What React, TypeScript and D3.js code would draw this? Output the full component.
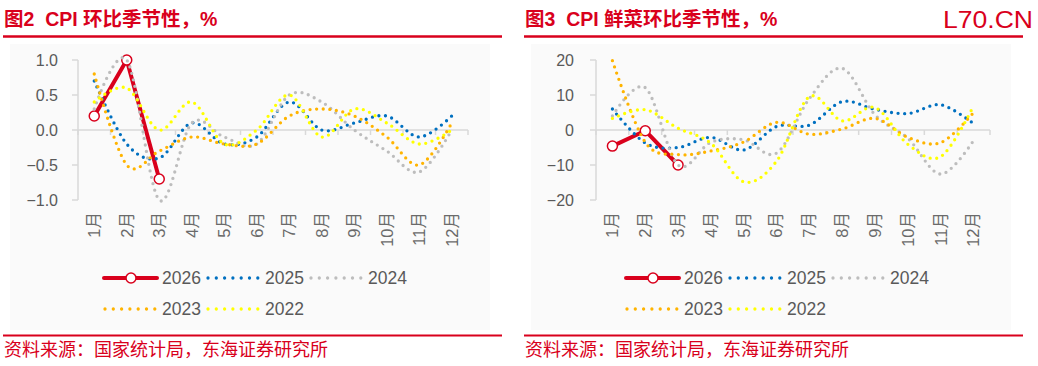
import React from 'react';
import * as d3 from 'd3';

const months = ['1月', '2月', '3月', '4月', '5月', '6月', '7月', '8月', '9月', '10月', '11月', '12月'];
const years = ['2026', '2025', '2024', '2023', '2022'];

// 图2 CPI 环比
const cpi2026 = [0.2, 1.0, -0.7];
const cpi2025 = [0.7, -0.2, -0.4, 0.1, -0.2, -0.1, 0.4, 0.0, 0.1, 0.2, -0.1, 0.2];
const cpi2024 = [0.3, 1.0, -1.0, 0.1, -0.1, -0.2, 0.5, 0.4, 0.0, -0.3, -0.6, 0.0];
const cpi2023 = [0.8, -0.5, -0.3, -0.1, -0.2, -0.2, 0.2, 0.3, 0.2, -0.1, -0.5, 0.1];
const cpi2022 = [0.4, 0.6, 0.0, 0.4, -0.2, 0.0, 0.5, -0.1, 0.3, 0.1, -0.2, 0.0];
const cpiTicks = [-1.0, -0.5, 0.0, 0.5, 1.0];

// 图3 CPI 鲜菜环比
const veg2026 = [-4.6, -0.2, -10.0];
const veg2025 = [6.0, -3.7, -5.0, -2.1, -5.7, 1.0, 1.4, 8.1, 5.9, 4.7, 7.2, 1.8];
const veg2024 = [4.0, 12.1, -10.0, -3.5, -2.8, -6.6, 9.0, 17.6, 4.3, -2.4, -12.6, -3.0];
const veg2023 = [19.8, -3.5, -7.0, -6.0, -3.4, 2.2, -1.2, 0.3, 3.3, -2.1, -3.6, 5.0];
const veg2022 = [3.3, 5.8, 0.5, -3.8, -14.8, -8.9, 9.5, 2.6, 6.4, -4.1, -7.6, 6.9];
const vegTicks = [-20, -10, 0, 10, 20];

const RED = '#d9001c';
const colors: Record<string, string> = {
  '2026': RED,
  '2025': '#0070c0',
  '2024': '#bdbdbd',
  '2023': '#ffb400',
  '2022': '#ffff00',
};
const FONT = '"Liberation Sans", Arial, "Noto Sans CJK SC", sans-serif';
const AXIS = '#d9d9d9';
const TXT = '#595959';

interface PanelProps {
  x0: number;
  title: string;
  series: number[][];
  ticks: number[];
  fmt: (v: number) => string;
  plotLeft: number;
  plotRight: number;
  labelRight: number;
  legendX: number;
}

const Panel: React.FC<PanelProps> = ({ x0, title, series, ticks, fmt, plotLeft, plotRight, labelRight, legendX }) => {
  const top = 60;
  const bottom = 200;
  const x = d3.scaleBand<string>().domain(months).range([plotLeft, plotRight]).padding(0);
  const bw = x.bandwidth();
  const cx = (i: number) => (x(months[i]) || 0) + bw / 2;
  const y = d3.scaleLinear().domain([ticks[0], ticks[ticks.length - 1]]).range([bottom, top]);

  const smooth = d3.line<number>().x((_, i) => cx(i)).y(d => y(d)).curve(d3.curveCardinal);
  const straight = d3.line<number>().x((_, i) => cx(i)).y(d => y(d));

  const boundaries = d3.range(months.length + 1).map(i => plotLeft + i * bw);

  return (
    <g>
      <rect x={x0 + 10} y={44} width={480} height={286} fill="#fafafa" />
      <text x={x0 + 4} y={26} fill={RED} fontSize={19.5} fontWeight="bold" fontFamily={FONT}
        style={{ whiteSpace: 'pre' }}>{title}</text>
      <line x1={x0 + 3} x2={x0 + 502} y1={36.5} y2={36.5} stroke={RED} strokeWidth={2.5} />

      {/* y axis */}
      <line x1={plotLeft} x2={plotLeft} y1={top} y2={bottom} stroke={AXIS} strokeWidth={1.5} />
      {ticks.map(t => (
        <g key={t}>
          <line x1={plotLeft - 6} x2={plotLeft} y1={y(t)} y2={y(t)} stroke={AXIS} strokeWidth={1.5} />
          <text x={labelRight} y={y(t)} dy="0.35em" textAnchor="end" fill={TXT} fontSize={16} fontFamily={FONT}>{fmt(t)}</text>
        </g>
      ))}

      {/* x axis at zero */}
      <line x1={plotLeft} x2={plotRight} y1={y(0)} y2={y(0)} stroke={AXIS} strokeWidth={1.5} />
      {boundaries.map((b, i) => (
        <line key={i} x1={b} x2={b} y1={y(0)} y2={y(0) + 5} stroke={AXIS} strokeWidth={1.5} />
      ))}
      {months.map((m, i) => (
        <text key={m} transform={`translate(${cx(i)},212) rotate(-90)`} textAnchor="end" dy="0.35em"
          fill="#6a6a6a" fontSize={16.5} fontFamily={FONT}>{m}</text>
      ))}

      {/* series: 2026 first, later ones on top */}
      {series.map((s, k) => {
        const yr = years[k];
        if (k === 0) {
          return (
            <g key={yr}>
              <path d={straight(s) || ''} fill="none" stroke={RED} strokeWidth={4} strokeLinejoin="round" />
              {s.map((v, i) => (
                <circle key={i} cx={cx(i)} cy={y(v)} r={5} fill="#fff" stroke={RED} strokeWidth={1.5} />
              ))}
            </g>
          );
        }
        return (
          <path key={yr} d={smooth(s) || ''} fill="none" stroke={colors[yr]} strokeWidth={3.3}
            strokeLinecap="round" strokeDasharray="0 6.6" />
        );
      })}

      {/* legend */}
      {years.map((yr, k) => {
        const col = k % 3;
        const row = Math.floor(k / 3);
        const lx = legendX + col * 103;
        const ly = 278 + row * 31;
        return (
          <g key={yr}>
            {k === 0 ? (
              <g>
                <line x1={lx} x2={lx + 53} y1={ly} y2={ly} stroke={RED} strokeWidth={4} strokeLinecap="round" />
                <circle cx={lx + 27} cy={ly} r={5} fill="#fff" stroke={RED} strokeWidth={1.5} />
              </g>
            ) : (
              <line x1={lx + 1} x2={lx + 51} y1={ly} y2={ly} stroke={colors[yr]} strokeWidth={3.3}
                strokeLinecap="round" strokeDasharray="0 8.3" />
            )}
            <text x={lx + 58} y={ly} dy="0.35em" fill={TXT} fontSize={17.5} fontFamily={FONT}>{yr}</text>
          </g>
        );
      })}

      <line x1={x0 + 3} x2={x0 + 502} y1={335.5} y2={335.5} stroke={RED} strokeWidth={2} />
      <text x={x0 + 4} y={356} fill={RED} fontSize={18} fontFamily={FONT}>资料来源：国家统计局，东海证券研究所</text>
    </g>
  );
};

const App: React.FC = () => {
  return (
    <svg width={1038} height={366} style={{ position: 'absolute', left: 0, top: 0, background: '#fff' }}>
      <rect width={1038} height={366} fill="#fff" />
      <Panel x0={0} title="图2  CPI 环比季节性，%" series={[cpi2026, cpi2025, cpi2024, cpi2023, cpi2022]}
        ticks={cpiTicks} fmt={d3.format('.1f')} plotLeft={78} plotRight={468} labelRight={58} legendX={104} />
      <Panel x0={521} title="图3  CPI 鲜菜环比季节性，%" series={[veg2026, veg2025, veg2024, veg2023, veg2022]}
        ticks={vegTicks} fmt={d3.format('d')} plotLeft={596} plotRight={990} labelRight={574} legendX={626} />
      <text x={943} y={28} fill={RED} fontSize={23} fontFamily={FONT} textLength={90}
        lengthAdjust="spacingAndGlyphs">L70.CN</text>
    </svg>
  );
};

export default App;
